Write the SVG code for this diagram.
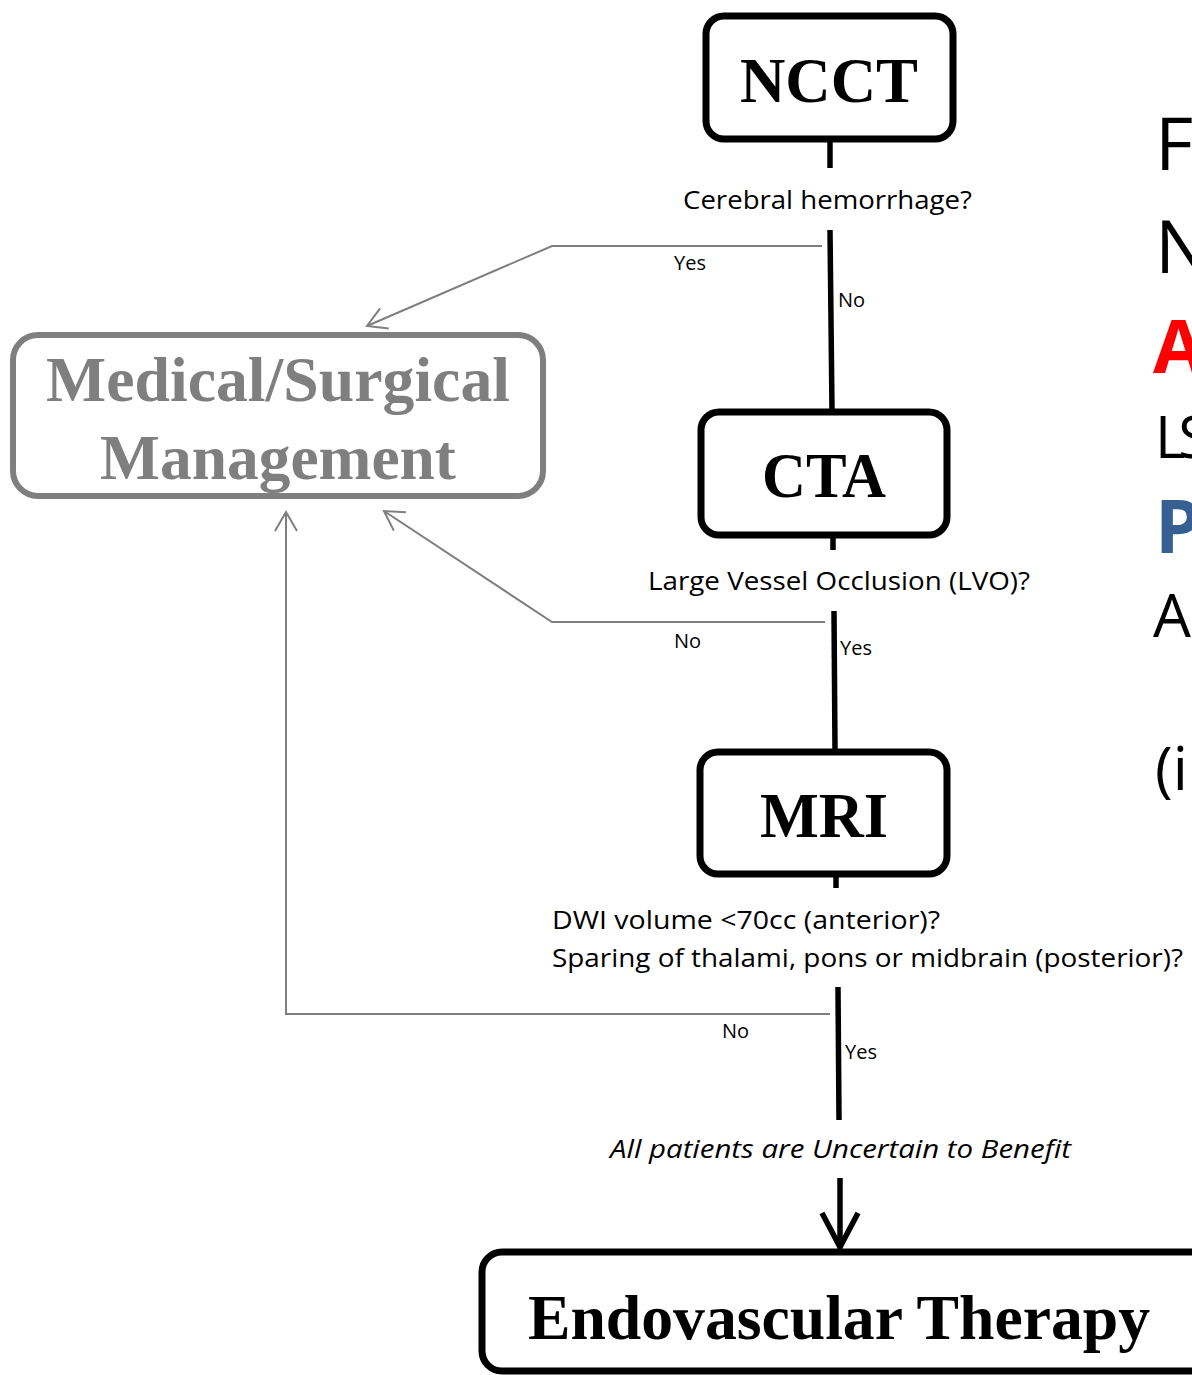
<svg xmlns="http://www.w3.org/2000/svg" width="1192" height="1375" viewBox="0 0 1192 1375">
<style>
.box{fill:#fff;stroke:#000;stroke-width:7}
.gbox{fill:#fff;stroke:#7f7f7f;stroke-width:6}
.title{font-family:"Liberation Serif","Times New Roman",serif;font-weight:bold;font-size:64px;fill:#000;text-anchor:middle}
.gtitle{font-family:"Liberation Serif","Times New Roman",serif;font-weight:bold;font-size:64px;fill:#7f7f7f;text-anchor:middle}
.q{font-family:"Open Sans","Liberation Sans",sans-serif;font-size:25px;fill:#000}
.lbl{font-family:"Open Sans","Liberation Sans",sans-serif;font-size:20px;fill:#000}
.side{font-family:"Open Sans","Liberation Sans",sans-serif;font-size:74px}
.blk{stroke:#000;stroke-width:5.5;fill:none}
.gry{stroke:#7f7f7f;stroke-width:2;fill:none}
</style>
<defs>
<marker id="garrow" markerUnits="userSpaceOnUse" viewBox="-22 -13 24 26" refX="0" refY="0" markerWidth="24" markerHeight="26" orient="auto" overflow="visible">
<path d="M-19,-11 L0,0 L-19,11" fill="none" stroke="#7f7f7f" stroke-width="2"/>
</marker>
</defs>

<g id="connectors">
<line class="blk" x1="830" y1="139" x2="830" y2="168"/>
<line class="blk" x1="830" y1="230" x2="832" y2="410"/>
<polyline class="gry" points="822,246 552,246 367,326" marker-end="url(#garrow)"/>
<line class="blk" x1="833" y1="535" x2="833" y2="550"/>
<line class="blk" x1="834" y1="611" x2="835" y2="750"/>
<polyline class="gry" points="825,622 552,622 384,511" marker-end="url(#garrow)"/>
<line class="blk" x1="836" y1="874" x2="836" y2="888"/>
<line class="blk" x1="838" y1="987" x2="839" y2="1120"/>
<polyline class="gry" points="830,1014 286,1014 286,512" marker-end="url(#garrow)"/>
<line class="blk" x1="840" y1="1178" x2="840" y2="1246"/>
<polyline class="blk" points="822,1213 840,1247 858,1213"/>
<text class="lbl" x="674" y="270">Yes</text>
<text class="lbl" x="838" y="307">No</text>
<text class="lbl" x="674" y="648">No</text>
<text class="lbl" x="840" y="655">Yes</text>
<text class="lbl" x="722" y="1038">No</text>
<text class="lbl" x="845" y="1059">Yes</text>
<text class="q" x="683" y="209" textLength="289" lengthAdjust="spacingAndGlyphs">Cerebral hemorrhage?</text>
<text class="q" x="648" y="590" textLength="382" lengthAdjust="spacingAndGlyphs">Large Vessel Occlusion (LVO)?</text>
<text class="q" x="552" y="929" textLength="388" lengthAdjust="spacingAndGlyphs">DWI volume &lt;70cc (anterior)?</text>
<text class="q" x="552" y="967" textLength="631" lengthAdjust="spacingAndGlyphs">Sparing of thalami, pons or midbrain (posterior)?</text>
<text class="q" x="610" y="1158" font-style="italic" textLength="461" lengthAdjust="spacingAndGlyphs">All patients are Uncertain to Benefit</text>
</g>

<g id="ncct">
<rect class="box" x="706" y="16" width="247" height="123" rx="18"/>
<text class="title" x="829" y="102" textLength="178" lengthAdjust="spacingAndGlyphs">NCCT</text>
</g>

<g id="medical">
<rect class="gbox" x="13" y="335" width="530" height="161" rx="25"/>
<text class="gtitle" x="278" y="401" textLength="464" lengthAdjust="spacingAndGlyphs">Medical/Surgical</text>
<text class="gtitle" x="278" y="479" textLength="356" lengthAdjust="spacingAndGlyphs">Management</text>
</g>

<g id="cta">
<rect class="box" x="701" y="412" width="246" height="123" rx="18"/>
<text class="title" x="824" y="497" textLength="124" lengthAdjust="spacingAndGlyphs">CTA</text>
</g>

<g id="mri">
<rect class="box" x="700" y="752" width="247" height="122" rx="18"/>
<text class="title" x="824" y="837" textLength="128" lengthAdjust="spacingAndGlyphs">MRI</text>
</g>

<g id="evt">
<rect class="box" x="482" y="1252" width="730" height="119" rx="20"/>
<text class="title" x="839" y="1339" font-size="68" textLength="622" lengthAdjust="spacingAndGlyphs">Endovascular Therapy</text>
</g>

<g id="side-text">
<text class="side" x="1155" y="170" style="fill:#000">F</text>
<text class="side" x="1155" y="273" style="fill:#000">N</text>
<text class="side" x="1153" y="373" style="fill:#ff0000;font-weight:bold">A</text>
<text class="side" x="1155" y="458" style="fill:#000;font-size:58px;letter-spacing:-7px">LS</text>
<text class="side" x="1155" y="553" style="fill:#376092;font-weight:bold">P</text>
<text class="side" x="1153" y="637" style="fill:#000;font-size:60px">A</text>
<text class="side" x="1155" y="790" style="fill:#000;font-size:60px">(i</text>
</g>
</svg>
